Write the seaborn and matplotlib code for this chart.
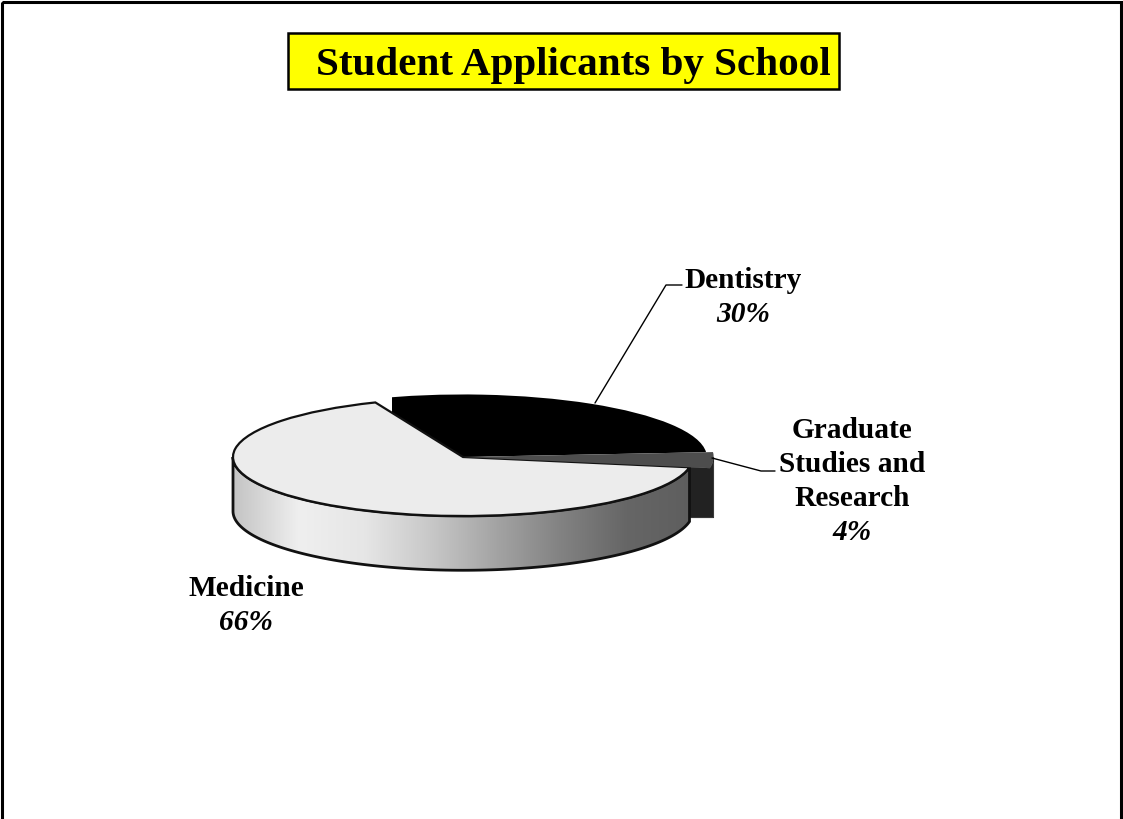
import numpy as np
import matplotlib
matplotlib.use('Agg')
import matplotlib.pyplot as plt
import seaborn as sns
from matplotlib.patches import Polygon, Rectangle

schools = ['Medicine', 'Graduate Studies and Research', 'Dentistry']
shares = [66, 4, 30]
share_labels = ['66%', '4%', '30%']
title = 'Student Applicants by School'

sns.set_theme(style='white')
plt.rcParams['font.family'] = ['Liberation Serif', 'DejaVu Serif']

fig = plt.figure(figsize=(11.23, 8.19), dpi=100, facecolor='white')

# page axes in pixels, used for the frame, title and labels
page = fig.add_axes([0, 0, 1, 1], zorder=2)
page.set_xlim(0, 1123)
page.set_ylim(819, 0)
page.axis('off')
page.patch.set_alpha(0)

# pie axes: 1 data unit is 230 px across and 59 px down, that gives the tilt
cx, cy, rx, ry = 463, 457, 230, 59
x_span, y_top, y_bottom = 1.2, 1.2, 2.0
pie_ax = fig.add_axes([(cx - x_span * rx) / 1123, (819 - cy - y_bottom * ry) / 819,
                       2 * x_span * rx / 1123, (y_top + y_bottom) * ry / 819], zorder=1)

start = 112.4
colors = ['#ececec', '#4d4d4d', '#000000']
wedges, _ = pie_ax.pie(shares, colors=colors, startangle=start, radius=1,
                       wedgeprops=dict(linewidth=0))
pie_ax.set_aspect('auto')
pie_ax.set_xlim(-x_span, x_span)
pie_ax.set_ylim(-y_bottom, y_top)

medicine, graduate, dentistry = wedges
graduate.set_radius(1.09)
dentistry.set_radius(1.06)
medicine.set_edgecolor('#111111')
medicine.set_linewidth(1.6)
dentistry.set_zorder(3)
medicine.set_zorder(4)
graduate.set_zorder(5)

# the dentistry slice has a straight cut on its left side
# pie() turns clipping off on its wedges, so it has to go back on
dentistry.set_clip_on(True)
dentistry.set_clip_path(Polygon([[-0.31, -1.5], [1.5, -1.5], [1.5, 1.5], [-0.31, 1.5]],
                                closed=True, transform=pie_ax.transData))

depth = 0.92


def arc(radius, a0, a1, drop=0.0):
    t = np.radians(np.linspace(a0, a1, 120))
    return np.column_stack([radius * np.cos(t), radius * np.sin(t) - drop])


# front wall of the medicine slice, from 180 deg to where the slice ends
med_end = start + 360 * shares[0] / 100 - 360
wall = np.vstack([arc(1, 180, 360 + med_end), arc(1, 360 + med_end, 180, depth)])
wall_patch = Polygon(wall, closed=True, facecolor='none', edgecolor='#111111',
                     linewidth=2, zorder=2.5)
pie_ax.add_patch(wall_patch)
cmap = sns.blend_palette(['#c4c4c4', '#efefef', '#e6e6e6', '#c8c8c8', '#a4a4a4',
                          '#828282', '#666666', '#5e5e5e'], as_cmap=True)
shade = pie_ax.imshow(np.linspace(0, 1, 256).reshape(1, -1), cmap=cmap, aspect='auto',
                      extent=[-1, 1, -2, 0], zorder=2)
shade.set_clip_path(Polygon(wall, closed=True, transform=pie_ax.transData))
pie_ax.set_xlim(-x_span, x_span)
pie_ax.set_ylim(-y_bottom, y_top)

# wall of the graduate slice, sits behind the medicine wall, flat at the bottom
grad_top = arc(1.09, 360 + med_end, 360)
grad_floor = grad_top[0, 1] - 0.84
grad_wall = np.vstack([arc(0.9, 360 + med_end, 360 + med_end), grad_top,
                       [[grad_top[-1, 0], grad_floor], [0.9, grad_floor]]])
pie_ax.add_patch(Polygon(grad_wall, closed=True, facecolor='#222222', edgecolor='#222222',
                         linewidth=0.5, zorder=1))

# frame runs off the bottom of the page
page.add_patch(Rectangle((2, 2), 1118.5, 840, facecolor='none', edgecolor='black',
                         linewidth=2.2, clip_on=True))

# title box
page.add_patch(Rectangle((287.5, 32.5), 551, 56, facecolor='#ffff00', edgecolor='black',
                         linewidth=1.8))
page.text(573.5, 66, title, ha='center', va='center', fontsize=29.6, fontweight='bold',
          color='black')

# leader lines
page.plot([595, 666, 682], [403, 285, 285], color='black', lw=1)
page.plot([712, 761, 775], [458, 471, 471], color='black', lw=1)

# labels
label_style = dict(ha='center', va='center', fontsize=21.2, color='black', fontweight='bold')
page.text(743, 280, schools[2], **label_style)
page.text(743, 314, share_labels[2], style='italic', **label_style)
for y, line in zip([430, 464, 498], ['Graduate', 'Studies and', 'Research']):
    page.text(852, y, line, **label_style)
page.text(852, 533, share_labels[1], style='italic', **label_style)
page.text(246, 589, schools[0], **label_style)
page.text(246, 622, share_labels[0], style='italic', **label_style)

fig.savefig('out.png', dpi=100)
